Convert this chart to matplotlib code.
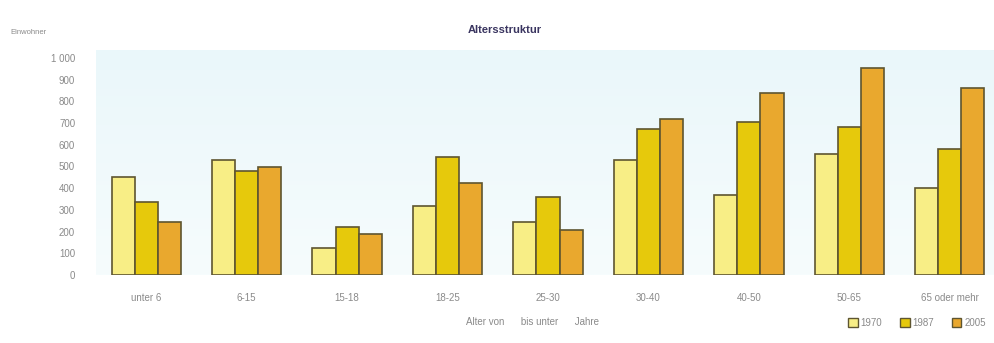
import matplotlib
matplotlib.use("Agg")
import matplotlib.pyplot as plt
import numpy as np
from matplotlib.patches import Patch
from matplotlib.colors import LinearSegmentedColormap

categories = ["unter 6", "6-15", "15-18", "18-25", "25-30", "30-40", "40-50", "50-65", "65 oder mehr"]
years = ["1970", "1987", "2005"]
v1970 = [450, 531, 123, 319, 245, 531, 370, 556, 400]
v1987 = [338, 481, 219, 546, 358, 671, 705, 682, 580]
v2005 = [245, 497, 188, 423, 207, 717, 841, 952, 864]
yticks = [0, 100, 200, 300, 400, 500, 600, 700, 800, 900, 1000]
ytick_labels = ["0", "100", "200", "300", "400", "500", "600", "700", "800", "900", "1 000"]

colors = ["#f8ee86", "#e6c90c", "#e9a82e"]
edge = "#5e5530"
grey = "#8a8a8a"

plt.rcParams['font.family'] = ['Liberation Sans', 'DejaVu Sans']

fig = plt.figure(figsize=(9.95, 3.43), dpi=100)
W, H = 995, 343
left, right, top, bottom = 96, 995, 50, 275
ax = fig.add_axes([left / W, 1 - bottom / H, (right - left) / W, (bottom - top) / H])

ymax = 1000 * (275 - 50) / (275 - 58)
ax.set_xlim(-0.5, 8.45)
ax.set_ylim(0, ymax)

# background gradient
grad = np.linspace(0, 1, 100).reshape(-1, 1)
cmap = LinearSegmentedColormap.from_list("bg", ["#f6fcfd", "#eaf7fa"])
ax.imshow(grad, extent=[-0.5, 8.45, 0, ymax], aspect="auto", cmap=cmap, origin="lower", zorder=0)

x = np.arange(len(categories))
w = 0.23
for i, (vals, c) in enumerate(zip([v1970, v1987, v2005], colors)):
    ax.bar(x + (i - 1) * w, vals, width=w, color=c, edgecolor=edge, linewidth=1.2, zorder=3)

for s in ax.spines.values():
    s.set_visible(False)
ax.set_yticks(yticks)
ax.set_yticklabels(ytick_labels)
ax.set_xticks(x)
ax.set_xticklabels(categories)
ax.tick_params(axis="both", length=0, colors=grey, labelsize=7)
ax.tick_params(axis="y", pad=15)
ax.tick_params(axis="x", pad=13)

fig.text(505 / W, 1 - 30 / H, "Altersstruktur", ha="center", va="center",
         fontsize=8, fontweight="bold", color="#3a3560")
fig.text(10 / W, 1 - 33 / H, "Einwohner", ha="left", va="center", fontsize=5.5, color=grey)
fig.text(532 / W, 1 - 322 / H, "Alter von      bis unter      Jahre", ha="center", va="center",
         fontsize=7, color=grey)

handles = [Patch(facecolor=c, edgecolor=edge, linewidth=1.0, label=y) for c, y in zip(colors, years)]
fig.legend(handles=handles, loc="center", bbox_to_anchor=(917 / W, 1 - 323 / H), ncol=3,
           frameon=False, fontsize=7, handlelength=1.0, handleheight=1.0, handletextpad=0.3,
           columnspacing=1.8, labelcolor=grey)

fig.savefig("out.png", dpi=100)
